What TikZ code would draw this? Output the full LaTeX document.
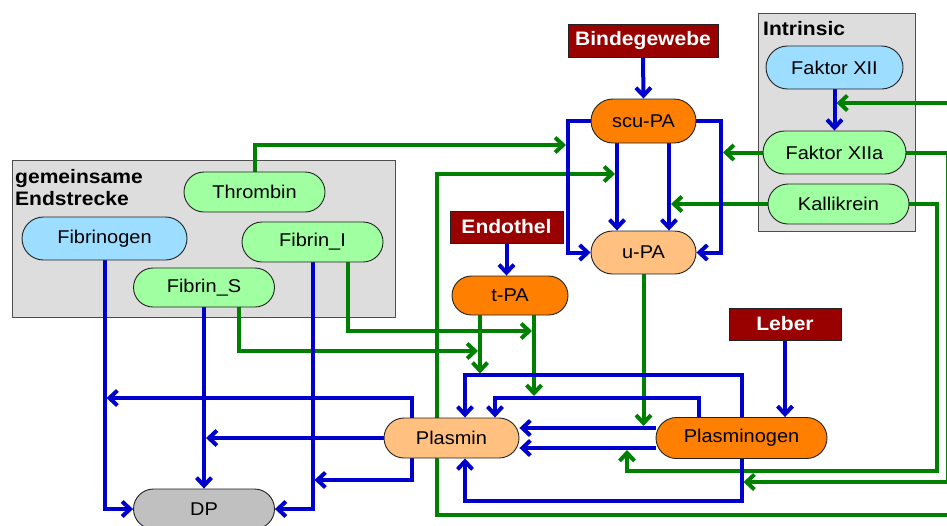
\documentclass[tikz,border=0pt]{standalone}
\usepackage{fontspec}
\setmainfont{Liberation Sans}[FakeStretch=1.08]
\usetikzlibrary{arrows.meta,shapes.misc}

\definecolor{linkblue}{HTML}{0000CC}
\definecolor{linkgreen}{HTML}{008000}
\definecolor{fillgreen}{HTML}{A0FFA0}
\definecolor{fillblue}{HTML}{9DDDFF}
\definecolor{fillorange}{HTML}{FF8000}
\definecolor{filllight}{HTML}{FFC080}
\definecolor{fillgrey}{HTML}{C0C0C0}
\definecolor{srcred}{HTML}{990000}
\definecolor{groupgrey}{HTML}{DDDDDD}
\definecolor{edge}{HTML}{222222}

\pgfdeclarelayer{boxes}
\pgfdeclarelayer{links}
\pgfsetlayers{boxes,links,main}

\tikzset{
  txt/.style={font=\fontsize{18.5}{22}\selectfont},
  bold/.style={font=\fontsize{19.5}{22}\selectfont\bfseries},
  wh/.style 2 args={minimum width=#1pt, minimum height=#2pt},
  pill/.style={rounded rectangle, draw=edge, line width=0.9pt, inner sep=0pt, fill=#1, txt},
  src/.style={rectangle, draw=edge, line width=0.9pt, inner sep=0pt, fill=srcred, text=white, bold},
  group/.style={rectangle, draw=edge!80, line width=0.9pt, fill=groupgrey, inner sep=0pt},
  heading/.style={anchor=base west, inner sep=0pt, bold},
  blu/.style={draw=linkblue, line width=4pt},
  grn/.style={draw=linkgreen, line width=4pt},
  tip/.style={-{Straight Barb[length=8pt,width=15pt]}},
}

\begin{document}
\begin{tikzpicture}[x=1pt,y=-1pt]
\useasboundingbox (0,0) rectangle (947,525);

% group frames
\begin{pgfonlayer}{boxes}
  \node[group, wh={383}{157}] (endbox) at (203.5,238.5) {};
  \node[group, wh={157}{218}] (intbox) at (836.5,122) {};
\end{pgfonlayer}
\node[heading] (endlabA) at (15,183) {gemeinsame};
\node[heading] (endlabB) at (15,205) {Endstrecke};
\node[heading] (intlab) at (763,35) {Intrinsic};

% common pathway
\node[pill=fillgreen, wh={141}{40}] (thr) at (254.5,192) {Thrombin};
\node[pill=fillblue,  wh={165}{43}] (fbg) at (104.5,238.5) {Fibrinogen};
\node[pill=fillgreen, wh={141}{40}] (fbi) at (312.5,242) {Fibrin\_I};
\node[pill=fillgreen, wh={141}{39}] (fbs) at (204,287.5) {Fibrin\_S};
\node[pill=fillgrey,  wh={141}{40}] (dp)  at (204,509) {DP};

% intrinsic pathway
\node[pill=fillblue,  wh={137}{43}] (f12)  at (834.5,67.5) {Faktor XII};
\node[pill=fillgreen, wh={143}{43}] (f12a) at (834.5,152.5) {Faktor XIIa};
\node[pill=fillgreen, wh={141}{40}] (kal)  at (838.5,204) {Kallikrein};

% activators and plasmin system
\node[src, wh={150}{33}] (bind)  at (643,40.5) {Bindegewebe};
\node[src, wh={113}{32}] (endo)  at (506.5,227) {Endothel};
\node[src, wh={112}{32}] (leber) at (785,324) {Leber};
\node[pill=fillorange, wh={105}{44}] (scu) at (643.5,121) {scu-PA};
\node[pill=filllight,  wh={105}{43}] (upa) at (643.5,252.5) {u-PA};
\node[pill=fillorange, wh={116}{39}] (tpa) at (510,295.5) {t-PA};
\node[pill=fillorange, wh={171}{41}] (plg) at (741.5,438) {Plasminogen};
\node[pill=filllight,  wh={135}{40}] (pls) at (451.5,438) {Plasmin};

% points where arrows meet other lines, and lines entering from the right
\coordinate (jA) at (566,145);
\coordinate (jB) at (615,174);
\coordinate (jC) at (627,450);
\coordinate (jD) at (743.5,482);
\coordinate (jE) at (836.5,103);
\coordinate (jF) at (723,152.5);
\coordinate (jG) at (671,204);
\coordinate (jH) at (643.5,426);
\coordinate (jI) at (480,373.5);
\coordinate (jJ) at (534,396);
\coordinate (jK) at (478,351);
\coordinate (jL) at (532,331);
\coordinate (jM) at (206,438);
\coordinate (jN) at (106.5,398);
\coordinate (jO) at (314.5,480);
\coordinate (eA) at (952,103);
\coordinate (eB) at (952,515);

\begin{pgfonlayer}{links}
  % activating influences
  \draw[grn,tip] (thr.north) |- (jA);
  \draw[grn,tip] (eB) -- ++(-515,0) |- (jB);
  \draw[grn,tip] (kal.east) -- ++(28,0) -- ++(0,267) -| (jC);
  \draw[grn,tip] (f12a.east) -- ++(41.5,0) |- (jD);
  \draw[grn,tip] (eA) -- (jE);
  \draw[grn,tip] (f12a.west) -- (jF);
  \draw[grn,tip] (kal.west) -- (jG);
  \draw[grn,tip] (upa.south) -- (jH);
  \draw[grn,tip] ([xshift=-30]tpa.south) -- (jI);
  \draw[grn,tip] ([xshift=24]tpa.south) -- (jJ);
  \draw[grn,tip] ([xshift=34.5]fbs.south) |- (jK);
  \draw[grn,tip] ([xshift=35.5]fbi.south) |- (jL);

  % conversions
  \draw[blu,tip] (bind.south) -- (scu.north);
  \draw[blu,tip] (scu.west) -- ++(-23,0) |- (upa.west);
  \draw[blu,tip] (scu.east) -- ++(25,0) |- (upa.east);
  \draw[blu,tip] ([xshift=-26.5]scu.south) -- ([xshift=-26.5]upa.north);
  \draw[blu,tip] ([xshift=25.5]scu.south) -- ([xshift=25.5]upa.north);
  \draw[blu,tip] (endo.south) -- (endo.south |- tpa.north);
  \draw[blu,tip] (f12.south) -- (f12a.north);
  \draw[blu,tip] (leber.south) -- (leber.south |- plg.north);
  \draw[blu,tip] ([yshift=10]plg.west) -- ([yshift=10]pls.east);
  \draw[blu,tip] ([yshift=-10]plg.west) -- ([yshift=-10]pls.east);
  \draw[blu,tip] ([xshift=-42.5]plg.north) -- ++(0,-19.5) -| ([xshift=43.5]pls.north);
  \draw[blu,tip] (plg.north) -- ++(0,-42) -| ([xshift=13.5]pls.north);
  \draw[blu,tip] (plg.south) -- ++(0,42) -| ([xshift=13.5]pls.south);
  \draw[blu,tip] (pls.west) -- (jM);
  \draw[blu,tip] ([xshift=-39.5]pls.north) |- (jN);
  \draw[blu,tip] ([xshift=-39.5]pls.south) |- (jO);
  \draw[blu,tip] (fbg.south) |- (dp.west);
  \draw[blu,tip] (fbs.south) -- (dp.north);
  \draw[blu,tip] (fbi.south) |- (dp.east);
\end{pgfonlayer}
\end{tikzpicture}
\end{document}
